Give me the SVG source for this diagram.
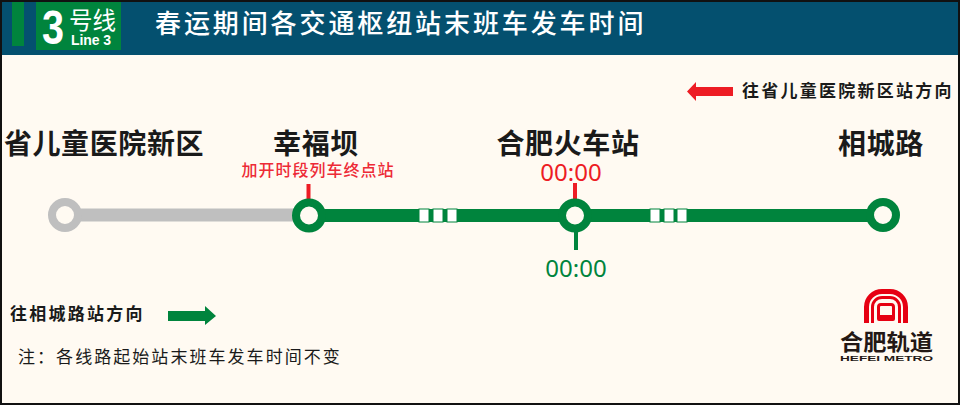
<svg xmlns="http://www.w3.org/2000/svg" width="960" height="406" viewBox="0 0 960 406">
<style>
text{font-family:"Noto Sans CJK SC","Noto Sans",sans-serif}
.name{font-size:28px;font-weight:700;fill:#1a1a1a;letter-spacing:.6px;text-anchor:middle}
.dir{font-size:17px;font-weight:700;fill:#1a1a1a;letter-spacing:2.250px}
.time{font-size:24px;font-family:"Noto Sans",sans-serif;text-anchor:middle}
.st{fill:#fffaf2;stroke-width:8}
.sq{fill:#fff;stroke:#00843d;stroke-width:1}
</style>
<rect x="1" y="1" width="958" height="403" fill="#fffaf2" stroke="#111" stroke-width="2"/>
<g id="header">
<rect x="2" y="2" width="956" height="53" fill="#04506f"/>
<rect x="12" y="2" width="12" height="44" fill="#00843d"/>
<rect x="36" y="2" width="85" height="48" fill="#00843d"/>
<text x="42" y="43.500" font-size="48" font-weight="700" fill="#fff" style="font-family:'Liberation Sans',sans-serif" textLength="22" lengthAdjust="spacingAndGlyphs">3</text>
<text x="69" y="28.500" font-size="24" fill="#fff" textLength="47" lengthAdjust="spacingAndGlyphs">号线</text>
<text x="71" y="45" font-size="14" font-weight="700" fill="#fff" style="font-family:'Liberation Sans',sans-serif" textLength="40" lengthAdjust="spacing">Line 3</text>
<text x="155" y="33" font-size="26" font-weight="500" fill="#fff" letter-spacing="2.900">春运期间各交通枢纽站末班车发车时间</text>
</g>
<g id="connectors">
<line x1="65" y1="215" x2="309" y2="215" stroke="#bfbfbf" stroke-width="13"/>
<line x1="309" y1="215.500" x2="883" y2="215.500" stroke="#00843d" stroke-width="13"/>
<line x1="308.500" y1="184" x2="308.500" y2="200" stroke="#ed1c24" stroke-width="4"/>
<line x1="575" y1="183" x2="575" y2="200" stroke="#ed1c24" stroke-width="4"/>
<line x1="576" y1="232" x2="576" y2="250" stroke="#00843d" stroke-width="4"/>
<rect class="sq" x="419" y="209" width="10" height="13"/><rect class="sq" x="433" y="209" width="10" height="13"/><rect class="sq" x="447" y="209" width="10" height="13"/>
<rect class="sq" x="650" y="209" width="10" height="13"/><rect class="sq" x="664" y="209" width="10" height="13"/><rect class="sq" x="677" y="209" width="10" height="13"/>
</g>
<g id="station-1"><circle class="st" cx="65" cy="215" r="13" stroke="#bfbfbf"/><text class="name" x="104" y="154">省儿童医院新区</text></g>
<g id="station-2"><circle class="st" cx="309" cy="215.500" r="13" stroke="#00843d"/><text class="name" x="316" y="154">幸福坝</text>
<text x="318" y="176" font-size="16" font-weight="500" fill="#ed2a36" text-anchor="middle" letter-spacing="1">加开时段列车终点站</text></g>
<g id="station-3"><circle class="st" cx="575" cy="215.500" r="13" stroke="#00843d"/><text class="name" x="568" y="154">合肥火车站</text>
<text class="time" x="571" y="181" fill="#ed1c24">00:00</text><text class="time" x="576" y="277" fill="#00843d">00:00</text></g>
<g id="station-4"><circle class="st" cx="883" cy="215" r="13" stroke="#00843d"/><text class="name" x="881" y="154">相城路</text></g>
<g id="dir-left"><polygon points="687,91.500 696,82 696,87 733,87 733,96 696,96 696,101" fill="#ed1c24"/><text class="dir" x="742" y="97">往省儿童医院新区站方向</text></g>
<g id="dir-right"><polygon points="168,311 205,311 205,306 216,316 205,325 205,321 168,321" fill="#00843d"/><text class="dir" x="10" y="320">往相城路站方向</text></g>
<text x="18" y="363" font-size="17" fill="#1a1a1a" letter-spacing="2.050">注：各线路起始站末班车发车时间不变</text>
<g id="logo">
<path d="M864,323V307a18,18 0 0 1 18,-18h8a18,18 0 0 1 18,18v16h-5V307a13,13 0 0 0 -13,-13h-8a13,13 0 0 0 -13,13v16z" fill="#e60012"/>
<path d="M871,323V307a11,11 0 0 1 11,-11h8a11,11 0 0 1 11,11v16h-3V307a8,8 0 0 0 -8,-8h-8a8,8 0 0 0 -8,8v16z" fill="#e60012"/>
<path d="M877,319V307a4,4 0 0 1 4,-4h10a4,4 0 0 1 4,4v12a2,2 0 0 1 -2,2h-14a2,2 0 0 1 -2,-2z M880,315h12v-8a1,1 0 0 0 -1,-1h-10a1,1 0 0 0 -1,1z" fill="#e60012" fill-rule="evenodd"/>
<text x="840" y="350" font-size="22" font-weight="700" fill="#231815" textLength="93" lengthAdjust="spacingAndGlyphs">合肥轨道</text>
<text x="840" y="361" font-size="8" font-weight="700" fill="#231815" style="font-family:'Liberation Sans',sans-serif" textLength="93" lengthAdjust="spacingAndGlyphs">HEFEI METRO</text>
</g>
</svg>
